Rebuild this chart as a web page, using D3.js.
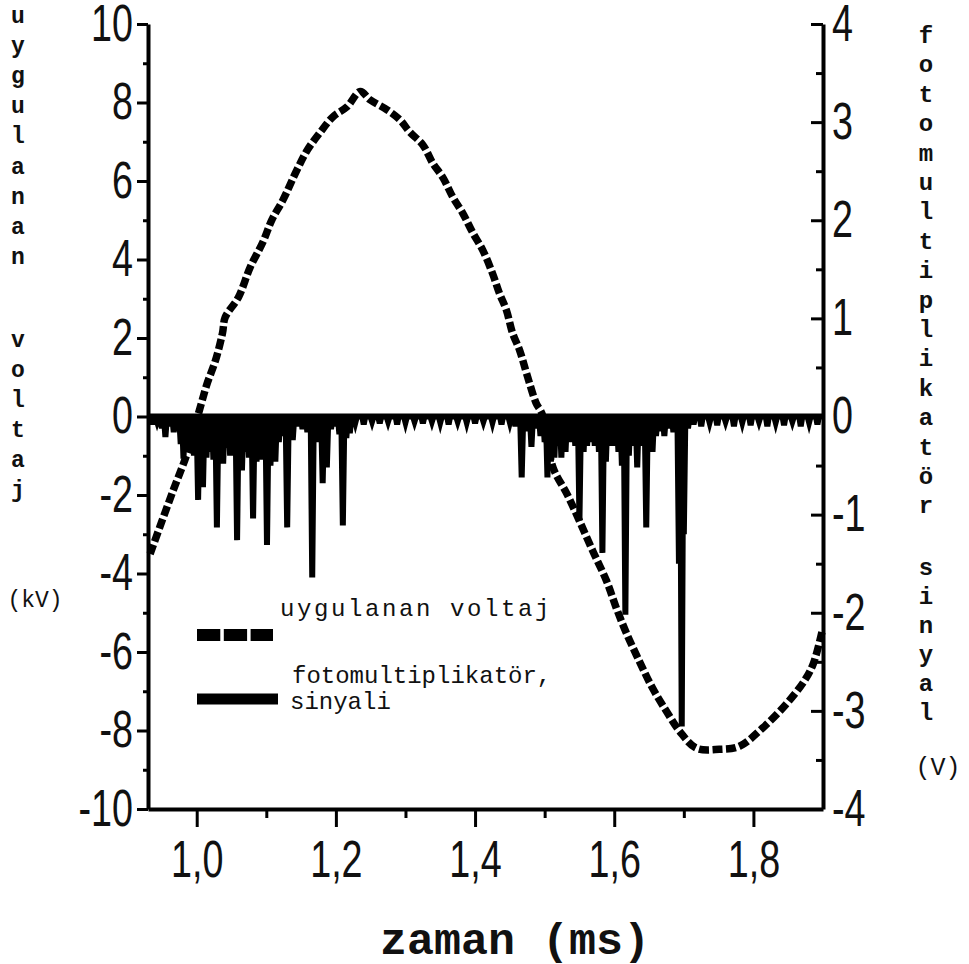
<!DOCTYPE html>
<html>
<head>
<meta charset="utf-8">
<script src="https://cdn.jsdelivr.net/npm/d3@7"></script>
<style>
  body { margin: 0; background: #fff; }
  text { fill: #111; }
</style>
</head>
<body>
<svg id="chart" width="969" height="964"></svg>
<script>
// applied voltage (kV)
const voltTime = [0.933, 0.966, 0.986, 1.005, 1.015, 1.027, 1.037, 1.041, 1.060, 1.077,
  1.095, 1.108, 1.124, 1.144, 1.159, 1.177, 1.196, 1.216, 1.235, 1.249,
  1.273, 1.292, 1.306, 1.325, 1.339, 1.354, 1.368, 1.382, 1.397, 1.411,
  1.425, 1.435, 1.445, 1.454, 1.464, 1.474, 1.488, 1.496, 1.512, 1.532,
  1.550, 1.569, 1.589, 1.603, 1.618, 1.636, 1.655, 1.675, 1.694, 1.718,
  1.751, 1.780, 1.813, 1.847, 1.873, 1.886, 1.899];
const voltValue = [-3.50, -1.89, -0.95, 0.23, 0.84, 1.43, 2.12, 2.53, 3.04, 3.81,
  4.44, 5.01, 5.52, 6.28, 6.79, 7.23, 7.64, 7.89, 8.28, 8.07,
  7.82, 7.56, 7.25, 6.92, 6.46, 6.08, 5.59, 5.19, 4.67, 4.24,
  3.65, 3.14, 2.71, 2.12, 1.69, 1.10, 0.33, 0.08, -1.30, -1.97,
  -2.66, -3.42, -4.19, -4.88, -5.54, -6.23, -6.92, -7.51, -8.02, -8.45,
  -8.48, -8.40, -7.94, -7.33, -6.74, -6.30, -5.45];

// photomultiplier signal (V): time and depth of each negative spike
const pmtTime = [0.936, 0.943, 0.950, 0.955, 0.961, 0.967, 0.972, 0.977, 0.981, 0.986,
  0.991, 0.996, 1.002, 1.006, 1.009, 1.014, 1.019, 1.024, 1.029, 1.033,
  1.038, 1.043, 1.048, 1.053, 1.058, 1.062, 1.065, 1.070, 1.075, 1.081,
  1.086, 1.090, 1.094, 1.101, 1.106, 1.110, 1.113, 1.118, 1.123, 1.130,
  1.134, 1.138, 1.145, 1.152, 1.159, 1.166, 1.171, 1.176, 1.181, 1.187,
  1.193, 1.200, 1.205, 1.210, 1.215, 1.220, 1.228, 1.240, 1.252, 1.263,
  1.275, 1.288, 1.300, 1.313, 1.325, 1.338, 1.350, 1.362, 1.375, 1.388,
  1.400, 1.412, 1.425, 1.438, 1.450, 1.458, 1.467, 1.472, 1.477, 1.481,
  1.488, 1.494, 1.500, 1.504, 1.509, 1.514, 1.519, 1.524, 1.530, 1.538,
  1.544, 1.550, 1.556, 1.561, 1.567, 1.572, 1.578, 1.583, 1.588, 1.594,
  1.600, 1.606, 1.611, 1.616, 1.621, 1.628, 1.633, 1.640, 1.646, 1.651,
  1.655, 1.660, 1.666, 1.672, 1.678, 1.685, 1.693, 1.697, 1.700, 1.706,
  1.714, 1.725, 1.737, 1.748, 1.760, 1.772, 1.784, 1.796, 1.808, 1.820,
  1.832, 1.844, 1.856, 1.868, 1.880, 1.892];
const pmtValue = [-0.08, -0.05, -0.12, -0.21, -0.10, -0.16, -0.12, -0.28, -0.43, -0.30,
  -0.34, -0.40, -0.85, -0.45, -0.72, -0.42, -0.36, -0.44, -1.13, -0.46,
  -0.48, -0.32, -0.40, -0.36, -1.26, -0.42, -0.55, -0.36, -0.42, -1.04,
  -0.46, -0.42, -0.44, -1.31, -0.50, -0.40, -0.46, -0.26, -0.20, -1.13,
  -0.22, -0.24, -0.10, -0.13, -0.16, -1.64, -0.26, -0.16, -0.68, -0.52,
  -0.13, -0.10, -0.18, -1.11, -0.22, -0.17, -0.06, -0.08, -0.05, -0.07,
  -0.05, -0.08, -0.06, -0.05, -0.07, -0.05, -0.06, -0.08, -0.05, -0.06,
  -0.07, -0.05, -0.06, -0.08, -0.06, -0.10, -0.62, -0.15, -0.12, -0.31,
  -0.12, -0.20, -0.26, -0.62, -0.46, -0.42, -0.30, -0.42, -0.36, -0.26,
  -0.30, -1.06, -0.36, -0.30, -0.26, -0.30, -0.36, -1.39, -0.46, -0.30,
  -0.30, -0.36, -0.50, -2.02, -0.40, -0.30, -0.52, -0.30, -1.13, -0.26,
  -0.36, -0.20, -0.15, -0.20, -0.12, -0.16, -1.50, -3.16, -1.20, -0.12,
  -0.08, -0.10, -0.06, -0.09, -0.05, -0.10, -0.06, -0.09, -0.05, -0.10,
  -0.06, -0.09, -0.05, -0.10, -0.06, -0.08];

// ticks
const xMajor = [1.0, 1.2, 1.4, 1.6, 1.8];
const xMinor = [1.1, 1.3, 1.5, 1.7];
const yLeftMajor = [-10, -8, -6, -4, -2, 0, 2, 4, 6, 8, 10];
const yLeftMinor = [-9, -7, -5, -3, -1, 1, 3, 5, 7, 9];
const yRightMajor = [-4, -3, -2, -1, 0, 1, 2, 3, 4];
const yRightMinor = [-3.5, -2.5, -1.5, -0.5, 0.5, 1.5, 2.5, 3.5];

const svg = d3.select("#chart");

const x = d3.scaleLinear().domain([0.93, 1.9]).range([148, 823]);
const yL = d3.scaleLinear().domain([-10, 10]).range([809, 24]);
const yR = d3.scaleLinear().domain([-4, 4]).range([809, 24]);

// voltage curve
const volt = voltTime.map((t, i) => [t, voltValue[i]]);
svg.append("path")
  .datum(volt)
  .attr("fill", "none")
  .attr("stroke", "#000")
  .attr("stroke-width", 7.5)
  .attr("stroke-dasharray", "10 3.5")
  .attr("d", d3.line().x(d => x(d[0])).y(d => yL(d[1])).curve(d3.curveCatmullRom));

// pmt signal: baseline at zero with narrow spikes
const w = 0.0022;
const pmt = [[0.93, 0]];
pmtTime.forEach((t, i) => {
  pmt.push([t - w, 0], [t, pmtValue[i]], [t + w, 0]);
});
pmt.push([1.9, 0]);
svg.append("path")
  .datum(pmt)
  .attr("fill", "none")
  .attr("stroke", "#000")
  .attr("stroke-width", 6)
  .attr("d", d3.line().x(d => x(d[0])).y(d => yR(d[1])));

// axes
const tickFont = "'Liberation Sans', Arial, sans-serif";
const sx = 0.74;

function styleAxis(g, width) {
  g.select(".domain").attr("stroke-width", width);
  g.selectAll(".tick line").attr("stroke-width", 3);
  g.selectAll("text")
    .attr("font-family", tickFont)
    .attr("font-size", 51)
    .attr("fill", "#111")
    .attr("transform", `scale(${sx},1)`)
    .attr("x", function () { return (+d3.select(this).attr("x") || 0) / sx; });
}

svg.append("g").attr("transform", "translate(148,0)")
  .call(d3.axisLeft(yL).tickValues(yLeftMinor).tickSize(5).tickFormat("").tickSizeOuter(0))
  .call(g => g.select(".domain").remove())
  .selectAll("line").attr("stroke-width", 3);
svg.append("g").attr("transform", "translate(148,0)")
  .call(d3.axisLeft(yL).tickValues(yLeftMajor).tickSize(11).tickPadding(4)
    .tickSizeOuter(0).tickFormat(d => String(d)))
  .call(g => styleAxis(g, 4));

svg.append("g").attr("transform", "translate(823,0)")
  .call(d3.axisRight(yR).tickValues(yRightMinor).tickSize(-7).tickFormat("").tickSizeOuter(0))
  .call(g => g.select(".domain").remove())
  .selectAll("line").attr("stroke-width", 3);
svg.append("g").attr("transform", "translate(823,0)")
  .call(d3.axisRight(yR).tickValues(yRightMajor).tickSize(-12).tickPadding(9)
    .tickSizeOuter(0).tickFormat(d => String(d)))
  .call(g => styleAxis(g, 4));

svg.append("g").attr("transform", "translate(0,809)")
  .call(d3.axisBottom(x).tickValues(xMinor).tickSize(9).tickFormat("").tickSizeOuter(0))
  .call(g => g.select(".domain").remove())
  .selectAll("line").attr("stroke-width", 3);
svg.append("g").attr("transform", "translate(0,809)")
  .call(d3.axisBottom(x).tickValues(xMajor).tickSize(18).tickPadding(14)
    .tickSizeOuter(0).tickFormat(d => d3.format(".1f")(d).replace(".", ",")))
  .call(g => styleAxis(g, 4));

// axis titles
const mono = "'Liberation Mono', 'DejaVu Sans Mono', monospace";

svg.append("text")
  .attr("x", 515).attr("y", 954)
  .attr("text-anchor", "middle")
  .attr("font-family", mono).attr("font-weight", "bold").attr("font-size", 45)
  .text("zaman (ms)");

function column(str, cx, y0, step, size) {
  svg.append("g").selectAll("text")
    .data(Array.from(str))
    .join("text")
    .attr("x", cx)
    .attr("y", (d, i) => y0 + i * step)
    .attr("text-anchor", "middle")
    .attr("font-family", mono).attr("font-weight", "bold").attr("font-size", size)
    .text(d => d);
}

column("uygulanan", 18, 23, 30.1, 23);
column("voltaj", 18, 347, 30, 23);
svg.append("text").attr("x", 35).attr("y", 607).attr("text-anchor", "middle")
  .attr("font-family", mono).attr("font-size", 23).text("(kV)");

column("fotomultiplikatör", 926, 43, 29.4, 24);
column("sinyal", 926, 575, 29, 24);
svg.append("text").attr("x", 938).attr("y", 775).attr("text-anchor", "middle")
  .attr("font-family", mono).attr("font-size", 25).text("(V)");

// legend
const legend = svg.append("g");
legend.append("line")
  .attr("x1", 197).attr("x2", 273).attr("y1", 635).attr("y2", 635)
  .attr("stroke", "#000").attr("stroke-width", 12).attr("stroke-dasharray", "23.3 3.5");
legend.append("line")
  .attr("x1", 197).attr("x2", 278).attr("y1", 699).attr("y2", 699)
  .attr("stroke", "#000").attr("stroke-width", 11);
legend.append("text").attr("x", 280).attr("y", 616)
  .attr("font-family", mono).attr("font-size", 24).attr("letter-spacing", 2.6)
  .text("uygulanan voltaj");
legend.append("text").attr("x", 292).attr("y", 683)
  .attr("font-family", mono).attr("font-size", 24)
  .text("fotomultiplikatör,");
legend.append("text").attr("x", 290).attr("y", 709)
  .attr("font-family", mono).attr("font-size", 24)
  .text("sinyali");
</script>
</body>
</html>
